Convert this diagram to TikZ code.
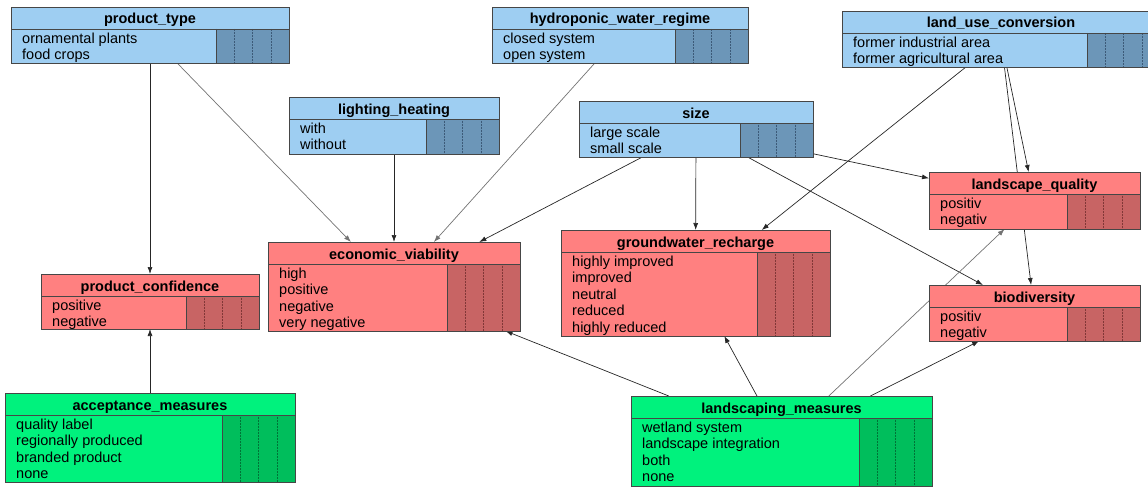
\documentclass[tikz,border=0pt]{standalone}
\usepackage{fontspec}
\setmainfont{Liberation Sans}
\usetikzlibrary{arrows.meta,backgrounds}

\definecolor{boxline}{RGB}{70,70,70}
\definecolor{bluebody}{RGB}{158,206,242}
\definecolor{bluepanel}{RGB}{108,150,184}
\definecolor{bluesep}{RGB}{60,90,120}
\definecolor{redbody}{RGB}{255,128,128}
\definecolor{redpanel}{RGB}{200,100,100}
\definecolor{redsep}{RGB}{130,55,55}
\definecolor{greenbody}{RGB}{0,242,125}
\definecolor{greenpanel}{RGB}{0,190,92}
\definecolor{greensep}{RGB}{0,115,55}

\tikzset{
  varbox/.style={draw=boxline, line width=0.8pt, rectangle, inner sep=0pt, outer sep=0pt, anchor=north west},
  vartitle/.style={font=\fontsize{14.5}{16}\selectfont\bfseries, inner sep=0pt, anchor=base},
  varstates/.style={font=\fontsize{14.5}{16.5}\selectfont, align=left, anchor=north west, inner sep=0pt},
  link/.style={-{Latex[length=7pt,width=5pt]}, line width=0.7pt, draw=black!85},
  faintlink/.style={link, draw=black!55},
}

% name, left x, top y, width, height, colour set, title, states
\newcommand{\netvar}[8]{%
  \node[varbox, fill=#6body, minimum width=#4pt, minimum height=#5pt] (#1) at (#2,#3) {};
  \fill[#6panel] ({#2+#4-73},{#3+22}) rectangle ({#2+#4},{#3+#5});
  \foreach \col in {1,2,3}
    \draw[#6sep, densely dotted, line width=0.5pt] ({#2+#4-73+\col*18.25},{#3+22}) -- ({#2+#4-73+\col*18.25},{#3+#5});
  \draw[boxline, line width=0.8pt] ({#2+#4-73},{#3+22}) -- ({#2+#4-73},{#3+#5});
  \draw[boxline, line width=0.8pt] (#2,{#3+22}) -- ({#2+#4},{#3+22});
  \draw[boxline, line width=0.8pt] (#1.north west) rectangle (#1.south east);
  \node[vartitle] at ({#2+#4/2},{#3+17}) {#7};
  \node[varstates] at ({#2+11},{#3+24.5}) {\strut #8};
}

\begin{document}
\begin{tikzpicture}[x=1pt, y=-1pt]
  \clip (0,0) rectangle (1148,487);

  % parents
  \netvar{ptype}{11}{7}{278}{56}{blue}{product\_type}{ornamental plants\\food crops}
  \netvar{hydro}{492}{7}{256}{56}{blue}{hydroponic\_water\_regime}{closed system\\open system}
  \netvar{landuse}{842}{11}{318}{56}{blue}{land\_use\_conversion}{former industrial area\\former agricultural area}
  \netvar{light}{289}{97}{210}{57}{blue}{lighting\_heating}{with\\without}
  \netvar{size}{579}{101}{234}{56}{blue}{size}{large scale\\small scale}

  % outcomes
  \netvar{econ}{268}{242}{252}{89}{red}{economic\_viability}{high\\positive\\negative\\very negative}
  \netvar{gwater}{561}{230}{269}{106}{red}{groundwater\_recharge}{highly improved\\improved\\neutral\\reduced\\highly reduced}
  \netvar{lquality}{929}{172}{211}{57}{red}{landscape\_quality}{positiv\\negativ}
  \netvar{biodiv}{929}{285}{211}{56}{red}{biodiversity}{positiv\\negativ}
  \netvar{pconf}{41}{274}{218}{55}{red}{product\_confidence}{positive\\negative}

  % measures
  \netvar{accept}{5}{393}{290}{89}{green}{acceptance\_measures}{quality label\\regionally produced\\branded product\\none}
  \netvar{lmeasures}{631}{396}{301}{90}{green}{landscaping\_measures}{wetland system\\landscape integration\\both\\none}

  \begin{scope}[on background layer]
    \draw[link] (ptype) -- (pconf);
    \draw[faintlink] (ptype) -- (econ);
    \draw[faintlink] (hydro) -- (econ);
    \draw[link] (light) -- (econ);
    \draw[link] (size) -- (econ);
    \draw[link] (size) -- (gwater);
    \draw[link] (size) -- (lquality);
    \draw[link] (size) -- (biodiv);
    \draw[link] (landuse) -- (gwater);
    \draw[link] (landuse) -- (lquality);
    \draw[link] (landuse) -- (biodiv);
    \draw[link] (accept) -- (pconf);
    \draw[link] (lmeasures) -- (econ);
    \draw[link] (lmeasures) -- (gwater);
    \draw[faintlink] (lmeasures) -- (lquality);
    \draw[link] (lmeasures) -- (biodiv);
  \end{scope}
\end{tikzpicture}
\end{document}
